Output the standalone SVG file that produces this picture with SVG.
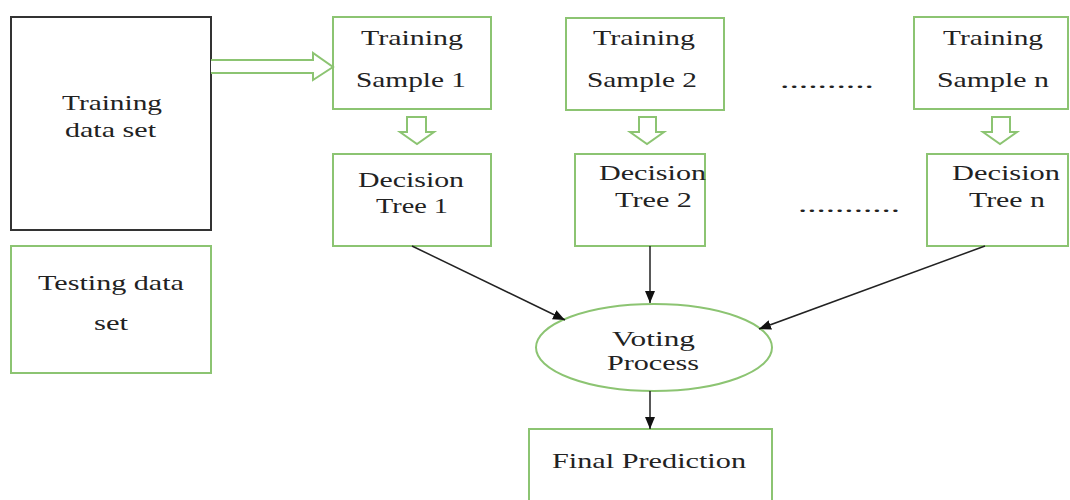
<svg xmlns="http://www.w3.org/2000/svg" width="1070" height="500" viewBox="0 0 1070 500">
<defs>
<style>
.g{fill:#fff;stroke:#8cc472;stroke-width:2}
.k{fill:#fff;stroke:#333;stroke-width:2}
.t{font-family:"Liberation Serif","Times New Roman",serif;font-size:22px;fill:#222}
.c{stroke:#222;stroke-width:1.5;fill:none}
.h{fill:#fff;stroke:#8cc472;stroke-width:2;stroke-linejoin:miter}
</style>
<marker id="ah" viewBox="0 0 12 10" refX="12" refY="5" markerWidth="12" markerHeight="10" markerUnits="userSpaceOnUse" orient="auto">
<path d="M0,0 L12,5 L0,10 Z" fill="#111"/>
</marker>
</defs>
<rect width="1070" height="500" fill="#fff"/>

<g id="training-data">
<rect class="k" x="11" y="17" width="200" height="213"/>
<text class="t" x="62" y="110" textLength="100" lengthAdjust="spacingAndGlyphs">Training</text>
<text class="t" x="65" y="137" textLength="91" lengthAdjust="spacingAndGlyphs">data set</text>
</g>
<g id="testing-data">
<rect class="g" x="11" y="246" width="200" height="127"/>
<text class="t" x="38" y="290" textLength="146" lengthAdjust="spacingAndGlyphs">Testing data</text>
<text class="t" x="94" y="330" textLength="34" lengthAdjust="spacingAndGlyphs">set</text>
</g>
<g id="sample1">
<rect class="g" x="333" y="17" width="158" height="92"/>
<text class="t" x="361" y="45" textLength="102" lengthAdjust="spacingAndGlyphs">Training</text>
<text class="t" x="356" y="87" textLength="110" lengthAdjust="spacingAndGlyphs">Sample 1</text>
</g>
<g id="sample2">
<rect class="g" x="566" y="18" width="158" height="92"/>
<text class="t" x="593" y="45" textLength="102" lengthAdjust="spacingAndGlyphs">Training</text>
<text class="t" x="587" y="87" textLength="110" lengthAdjust="spacingAndGlyphs">Sample 2</text>
</g>
<g id="samplen">
<rect class="g" x="914" y="17" width="154" height="92"/>
<text class="t" x="943" y="45" textLength="100" lengthAdjust="spacingAndGlyphs">Training</text>
<text class="t" x="937" y="87" textLength="112" lengthAdjust="spacingAndGlyphs">Sample n</text>
</g>
<g id="tree1">
<rect class="g" x="333" y="154" width="158" height="92"/>
<text class="t" x="358" y="187" textLength="106" lengthAdjust="spacingAndGlyphs">Decision</text>
<text class="t" x="376" y="213" textLength="72" lengthAdjust="spacingAndGlyphs">Tree 1</text>
</g>
<g id="tree2">
<rect class="g" x="575" y="154" width="130" height="92"/>
<text class="t" x="599" y="180" textLength="107" lengthAdjust="spacingAndGlyphs">Decision</text>
<text class="t" x="615" y="207" textLength="77" lengthAdjust="spacingAndGlyphs">Tree 2</text>
</g>
<g id="treen">
<rect class="g" x="927" y="154" width="141" height="92"/>
<text class="t" x="952" y="180" textLength="108" lengthAdjust="spacingAndGlyphs">Decision</text>
<text class="t" x="969" y="207" textLength="76" lengthAdjust="spacingAndGlyphs">Tree n</text>
</g>
<g id="dots">
<text class="t" x="780" y="88" textLength="94" lengthAdjust="spacingAndGlyphs">..........</text>
<text class="t" x="798" y="212" textLength="102" lengthAdjust="spacingAndGlyphs">...........</text>
</g>
<g id="voting">
<ellipse class="g" cx="654" cy="347.5" rx="118" ry="43.5"/>
<text class="t" x="612" y="346" textLength="83" lengthAdjust="spacingAndGlyphs">Voting</text>
<text class="t" x="607" y="370" textLength="92" lengthAdjust="spacingAndGlyphs">Process</text>
</g>
<g id="final">
<rect class="g" x="529" y="429" width="243" height="80"/>
<text class="t" x="552" y="468" textLength="194" lengthAdjust="spacingAndGlyphs">Final Prediction</text>
</g>

<g id="connectors">
<path class="h" d="M211,60 L313,60 L313,53 L333,67 L313,80 L313,73 L211,73"/>
<path class="h" d="M407,117 L426,117 L426,132 L434,132 L417,144 L400,132 L407,132 Z"/>
<path class="h" d="M639,117 L656,117 L656,132 L664,132 L647,144 L630,132 L639,132 Z"/>
<path class="h" d="M992,117 L1010,117 L1010,132 L1017,132 L1000,144 L983,132 L992,132 Z"/>
<line class="c" x1="412" y1="246" x2="565" y2="320" marker-end="url(#ah)"/>
<line class="c" x1="650" y1="246" x2="650" y2="303" marker-end="url(#ah)"/>
<line class="c" x1="985" y1="246" x2="759" y2="329" marker-end="url(#ah)"/>
<line class="c" x1="650" y1="391" x2="650" y2="429" marker-end="url(#ah)"/>
</g>
</svg>
